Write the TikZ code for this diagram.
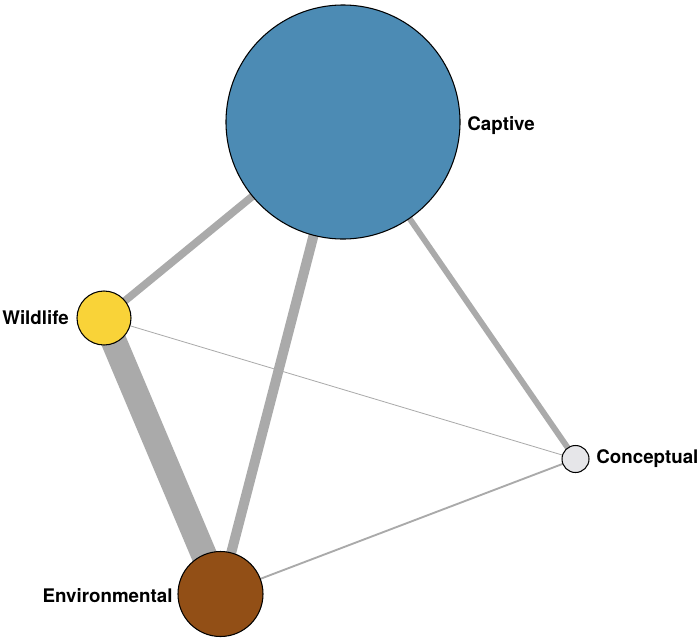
\documentclass[tikz,border=0pt]{standalone}
\usepackage{fontspec}
\setmainfont{TeX Gyre Heros}
\usepackage{xcolor}
\usetikzlibrary{backgrounds}

\definecolor{captiveblue}{HTML}{4C8BB4}
\definecolor{wildyellow}{HTML}{F9D338}
\definecolor{envbrown}{HTML}{924F16}
\definecolor{conceptgray}{HTML}{E6E6E9}
\definecolor{linkgray}{HTML}{AAAAAA}

\begin{document}
\begin{tikzpicture}[x=0.03cm,y=-0.03cm,
    group/.style={circle,draw=black,line width=0.9pt,inner sep=0pt},
    link/.style={draw=linkgray},
    tag/.style={font=\fontsize{16}{19}\selectfont\bfseries,inner sep=0pt}]
  \useasboundingbox (0,0) rectangle (700,640);
  \node[group,fill=captiveblue,minimum size=7.02cm] (C) at (343,122) {};
  \node[group,fill=wildyellow,minimum size=1.62cm] (W) at (104,318) {};
  \node[group,fill=envbrown,minimum size=2.55cm] (E) at (220.5,594) {};
  \node[group,fill=conceptgray,minimum size=0.81cm] (K) at (575.5,459) {};
    % Labels
  \node[tag,anchor=west] (Clab) at ([xshift=0.2cm,yshift=-0.1cm]C.east) {Captive};
  \node[tag,anchor=east] (Wlab) at ([xshift=-0.22cm]W.west) {Wildlife};
  \node[tag,anchor=east] (Elab) at ([xshift=-0.14cm,yshift=-0.06cm]E.west) {Environmental};
  \node[tag,anchor=west] (Klab) at ([xshift=0.2cm]K.east) {Conceptual};
  \begin{scope}[on background layer]
    \draw[link,line width=22pt] (W.center) -- (E.center);
    \draw[link,line width=8.5pt] (C.center) -- (E.center);
    \draw[link,line width=6.5pt] (C.center) -- (W.center);
    \draw[link,line width=5pt] (C.center) -- (K.center);
    \draw[link,line width=1.6pt] (E.center) -- (K.center);
    \draw[link,line width=0.7pt] (W.center) -- (K.center);
  \end{scope}
\end{tikzpicture}
\end{document}
